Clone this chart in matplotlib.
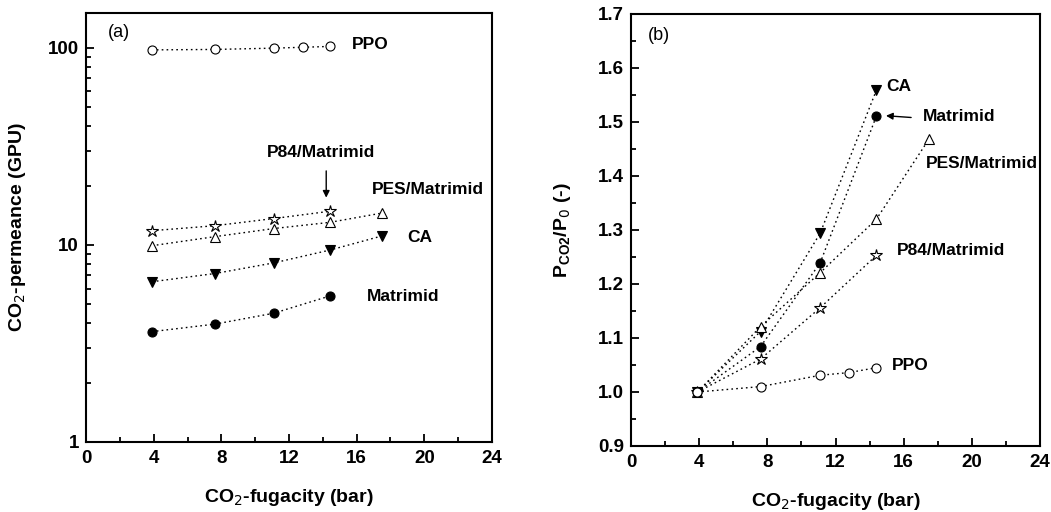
import matplotlib
matplotlib.use("Agg")
import matplotlib.pyplot as plt
from matplotlib.ticker import MultipleLocator, LogLocator, NullFormatter, FixedLocator

plt.rcParams['font.family'] = ['Liberation Sans', 'DejaVu Sans']

# ---- data (a): CO2 permeance (GPU) vs CO2 fugacity (bar)
ppo_x = [3.9, 7.6, 11.1, 12.8, 14.4]
ppo_perm = [97.5, 98.0, 99.5, 100.5, 101.5]
p84_x = [3.9, 7.6, 11.1, 14.4]
p84_perm = [11.8, 12.5, 13.6, 14.8]
pes_x = [3.9, 7.6, 11.1, 14.4, 17.5]
pes_perm = [9.9, 11.0, 12.1, 13.0, 14.5]
ca_x = [3.9, 7.6, 11.1, 14.4, 17.5]
ca_perm = [6.5, 7.15, 8.1, 9.4, 11.1]
mat_x = [3.9, 7.6, 11.1, 14.4]
mat_perm = [3.63, 3.96, 4.5, 5.5]

# ---- data (b): normalized permeance P_CO2/P_0
ppo_norm = [1.0, 1.01, 1.031, 1.036, 1.045]
p84_norm = [1.0, 1.061, 1.156, 1.253]
pes_norm = [1.0, 1.121, 1.221, 1.320, 1.469]
ca_norm = [1.0, 1.112, 1.294, 1.559]
ca_norm_x = [3.9, 7.6, 11.1, 14.4]
mat_norm = [1.0, 1.084, 1.239, 1.511]

x_ticks = [0, 4, 8, 12, 16, 20, 24]

fig = plt.figure(figsize=(10.51, 5.12), dpi=100)
ax1 = fig.add_axes([86/1051, 1-442/512, (492-86)/1051, (442-13)/512])
ax2 = fig.add_axes([631/1051, 1-446/512, (1040-631)/1051, (446-14)/512])

ls = dict(color='black', linestyle=(0, (1.2, 2.3)), linewidth=1.0)
ms = 6.5

def series(ax, x, y, marker, filled, size=ms):
    ax.plot(x, y, marker=marker, markersize=size,
            markerfacecolor='black' if filled else 'white',
            markeredgecolor='black', markeredgewidth=0.8, **ls)

# panel (a)
series(ax1, ppo_x, ppo_perm, 'o', False)
series(ax1, p84_x, p84_perm, '*', False, 9)
series(ax1, pes_x, pes_perm, '^', False)
series(ax1, ca_x, ca_perm, 'v', True)
series(ax1, mat_x, mat_perm, 'o', True)

ax1.set_yscale('log')
ax1.set_ylim(1, 150)
ax1.set_xlim(0, 24)
ax1.set_xticks(x_ticks)
ax1.xaxis.set_minor_locator(MultipleLocator(2))
ax1.yaxis.set_major_locator(FixedLocator([1, 10, 100]))
ax1.set_yticklabels(['1', '10', '100'])
ax1.yaxis.set_minor_locator(LogLocator(base=10, subs=range(2, 10)))
ax1.yaxis.set_minor_formatter(NullFormatter())
ax1.set_xlabel('CO$_2$-fugacity (bar)', fontsize=14, fontweight='bold', labelpad=14)
ax1.set_ylabel('CO$_2$-permeance (GPU)', fontsize=14, fontweight='bold', labelpad=14)

tk = dict(fontsize=12.5, fontweight='bold')
ax1.text(1.3, 120, '(a)', fontsize=13, va='center')
ax1.text(15.7, 104, 'PPO', va='center', ha='left', **tk)
ax1.text(13.9, 29.4, 'P84/Matrimid', va='center', ha='center', **tk)
ax1.annotate('', xy=(14.2, 16.8), xytext=(14.2, 24.5),
             arrowprops=dict(arrowstyle='-|>', color='black', lw=1.0, mutation_scale=10))
ax1.text(16.9, 19.0, 'PES/Matrimid', va='center', ha='left', **tk)
ax1.text(19.0, 10.9, 'CA', va='center', ha='left', **tk)
ax1.text(16.6, 5.5, 'Matrimid', va='center', ha='left', **tk)

# panel (b)
series(ax2, ca_norm_x, ca_norm, 'v', True)
series(ax2, mat_x, mat_norm, 'o', True)
series(ax2, pes_x, pes_norm, '^', False)
series(ax2, p84_x, p84_norm, '*', False, 9)
series(ax2, ppo_x, ppo_norm, 'o', False)

ax2.set_xlim(0, 24)
ax2.set_ylim(0.9, 1.7)
ax2.set_xticks(x_ticks)
ax2.xaxis.set_minor_locator(MultipleLocator(2))
ax2.yaxis.set_major_locator(MultipleLocator(0.1))
ax2.yaxis.set_minor_locator(MultipleLocator(0.05))
ax2.yaxis.set_major_formatter(plt.FuncFormatter(lambda v, p: f'{v:.1f}'))
ax2.set_xlabel('CO$_2$-fugacity (bar)', fontsize=14, fontweight='bold', labelpad=14)
ax2.set_ylabel('P$_{\\mathregular{CO2}}$/P$_0$ (-)', fontsize=14, fontweight='bold', labelpad=18)

ax2.text(1.0, 1.66, '(b)', fontsize=13, va='center')
ax2.text(15.0, 1.565, 'CA', va='center', ha='left', **tk)
ax2.text(17.1, 1.51, 'Matrimid', va='center', ha='left', **tk)
ax2.annotate('', xy=(14.8, 1.512), xytext=(16.6, 1.508),
             arrowprops=dict(arrowstyle='-|>', color='black', lw=1.0, mutation_scale=10))
ax2.text(17.3, 1.424, 'PES/Matrimid', va='center', ha='left', **tk)
ax2.text(15.6, 1.262, 'P84/Matrimid', va='center', ha='left', **tk)
ax2.text(15.3, 1.05, 'PPO', va='center', ha='left', **tk)

for ax in (ax1, ax2):
    for s in ax.spines.values():
        s.set_linewidth(1.5)
    ax.tick_params(which='both', direction='in', top=False, right=False, width=1.3)
    ax.tick_params(which='major', length=6, labelsize=13.5)
    ax.tick_params(axis='x', which='major', pad=6)
    ax.tick_params(axis='y', which='major', pad=5)
    ax.tick_params(which='minor', length=3.5)
    for lab in ax.get_xticklabels() + ax.get_yticklabels():
        lab.set_fontweight('bold')

fig.savefig('out.png', dpi=100)
